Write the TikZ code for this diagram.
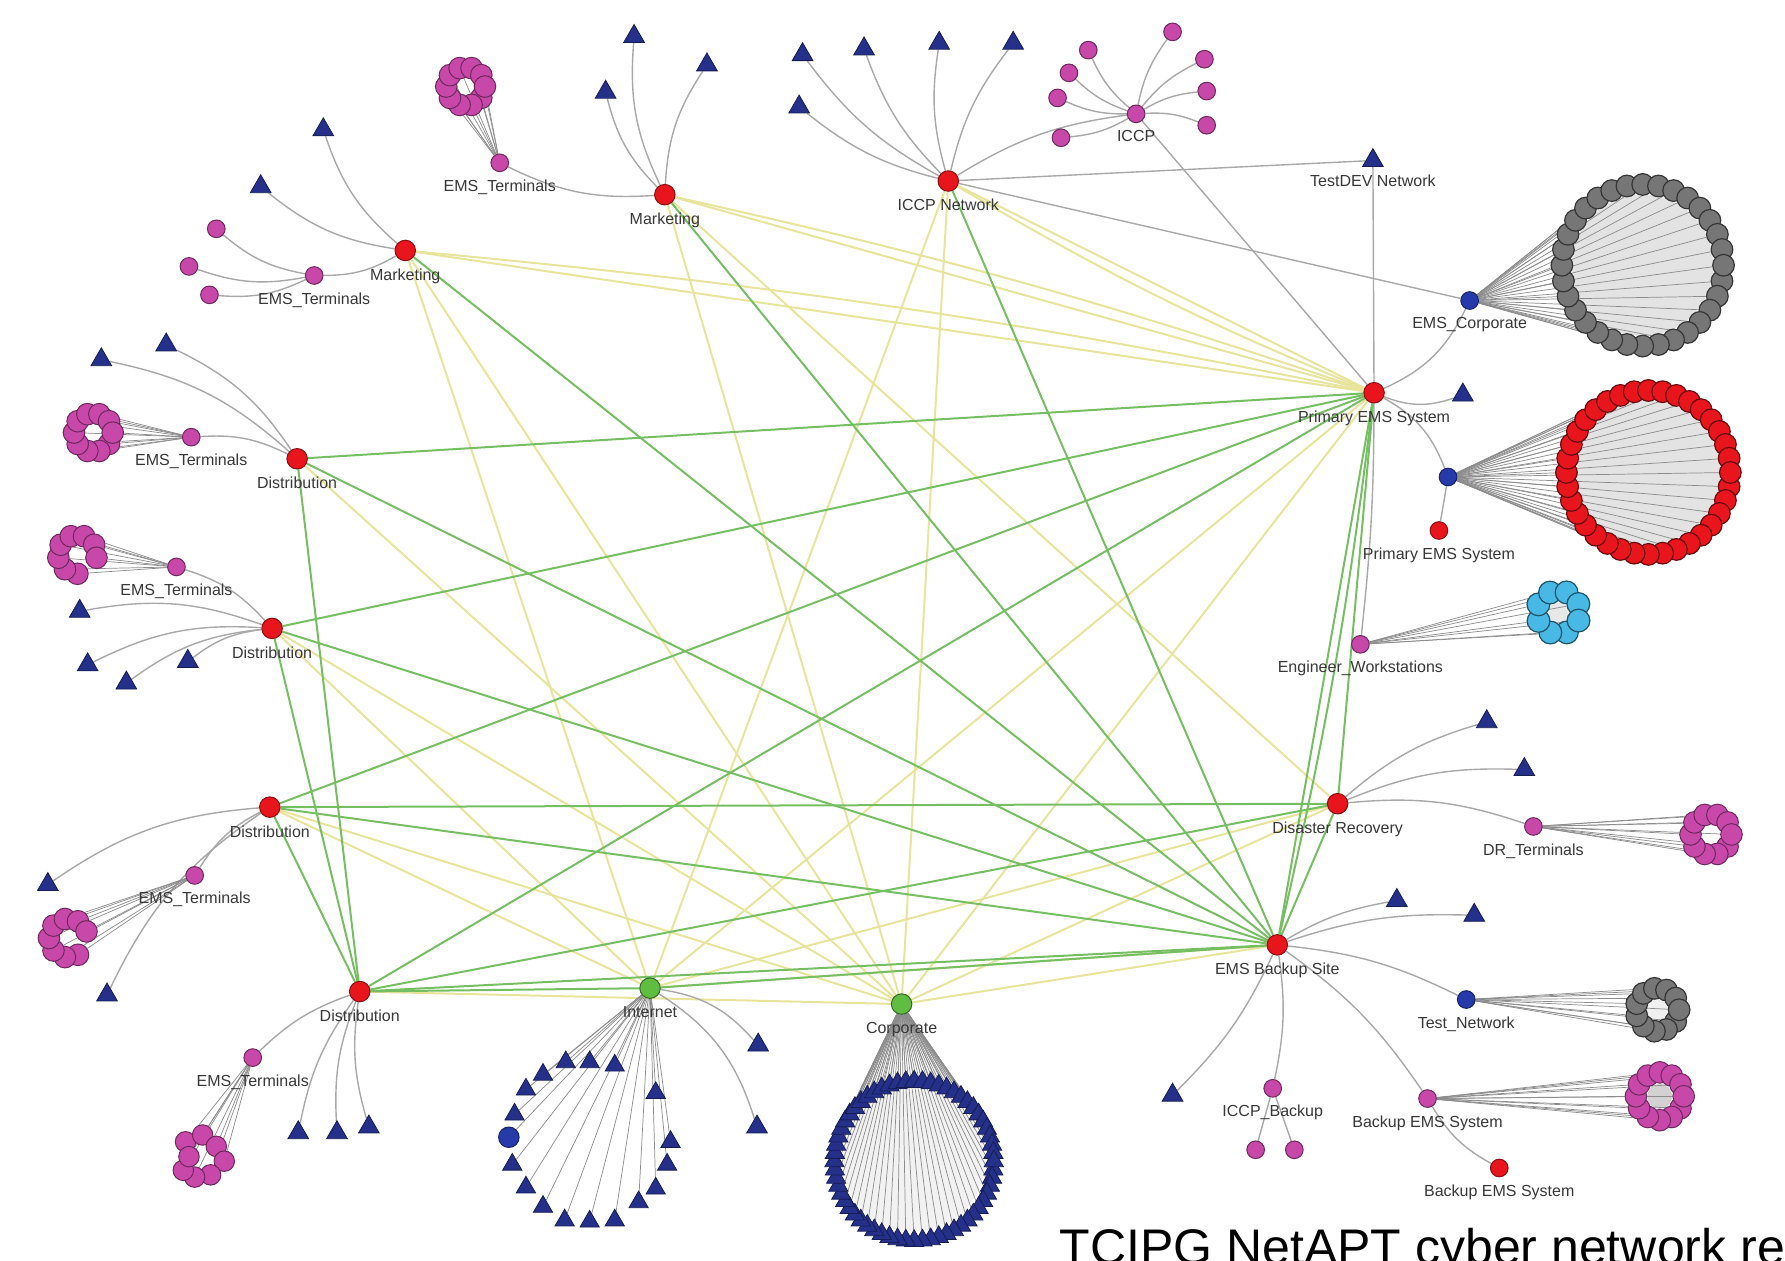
\documentclass[tikz,border=0pt]{standalone}
\usepackage{fontspec}
\setmainfont{Liberation Sans}
\usepackage{tikz}
\usetikzlibrary{shapes.geometric, positioning, calc, backgrounds}
\definecolor{hubred}{RGB}{232, 22, 28}
\definecolor{gwgreen}{RGB}{95, 190, 65}
\definecolor{termpink}{RGB}{200, 72, 170}
\definecolor{hostblue}{RGB}{38, 58, 170}
\definecolor{trinavy}{RGB}{36, 48, 138}
\definecolor{ringgray}{RGB}{118, 118, 118}
\definecolor{wscyan}{RGB}{72, 185, 228}
\definecolor{linkgray}{RGB}{168, 168, 168}
\definecolor{fangray}{RGB}{140, 140, 140}
\definecolor{meshyellow}{RGB}{232, 228, 155}
\definecolor{meshgreen}{RGB}{118, 190, 98}
\definecolor{labelgray}{RGB}{55, 55, 55}

\newcommand{\lblfont}{\fontsize{4}{4.5}\selectfont}

\tikzset{
    hub/.style={circle, fill=hubred, draw=hubred!60!black, line width=0.25pt,
        minimum size=1.8mm, inner sep=0pt},
    gwhub/.style={hub, fill=gwgreen, draw=gwgreen!55!black},
    term/.style={circle, fill=termpink, draw=termpink!55!black, line width=0.25pt,
        minimum size=1.55mm, inner sep=0pt},
    cell/.style={term, minimum size=1.9mm},
    sysnode/.style={term, fill=hubred, draw=hubred!60!black},
    host/.style={term, fill=hostblue, draw=hostblue!60!black},
    member/.style={circle, fill=#1, draw=#1!45!black, line width=0.3pt,
        minimum size=1.9mm, inner sep=0pt},
    devtri/.style={regular polygon, regular polygon sides=3, fill=trinavy,
        draw=trinavy!60!black, line width=0.2pt, minimum size=2.1mm, inner sep=0pt},
    ringtri/.style={devtri, minimum size=1.95mm},
    lbl/.style={font=\lblfont, text=labelgray, inner sep=0.4pt},
    every label/.append style={lbl},
    yellowlink/.style={draw=meshyellow, line width=0.5pt},
    greenlink/.style={draw=meshgreen, line width=0.5pt},
    childlink/.style={draw=linkgray, line width=0.35pt},
    fanlink/.style={draw=fangray, line width=0.18pt}
}

% ring of member nodes: name, centre, radius, count, style, start angle
\newcommand{\nodering}[6]{%
    \foreach \k in {1,...,#4}
        \node[#5] (#1-\k) at ($#2+({#6+\k*(360/#4)}:#3)$) {};
}
% links from one node to every member of a ring
\newcommand{\fanlinks}[3]{%
    \foreach \k in {1,...,#3}
        \draw[fanlink] (#1) -- (#2-\k);
}

\begin{document}
\begin{tikzpicture}[x=0.1mm, y=-0.1mm, label distance=1.3pt]
    \path[use as bounding box] (0,0) rectangle (1568,1107);
    \clip (0,0) rectangle (1568,1107);

    % zone hubs
    \node[hub, label=below:Marketing] (mktA) at (356,220) {};
    \node[hub, label=below:Marketing] (mktB) at (584,171) {};
    \node[hub, label=below:ICCP Network] (iccpnet) at (833,159) {};
    \node[hub, label=below:Primary EMS System] (primems) at (1207,345) {};
    \node[hub, label=below:Distribution] (distA) at (261,403) {};
    \node[hub, label=below:Distribution] (distB) at (239,552) {};
    \node[hub, label=below:Distribution] (distC) at (237,709) {};
    \node[hub, label=below:Distribution] (distD) at (316,871) {};
    \node[hub, label=below:Disaster Recovery] (disrec) at (1175,706) {};
    \node[hub, label=below:EMS Backup Site] (emsbk) at (1122,830) {};
    \node[gwhub, label=below:Internet] (inet) at (571,868) {};
    \node[gwhub, label=below:Corporate] (corp) at (792,882) {};

    % Marketing, left
    \node[devtri] (mktA-t1) at (284,114) {};
    \node[devtri] (mktA-t2) at (229,164) {};
    \node[term, label=below:EMS\_Terminals] (mktA-term) at (276,242) {};
    \node[term] (mktA-p1) at (190,201) {};
    \node[term] (mktA-p2) at (166,234) {};
    \node[term] (mktA-p3) at (184,259) {};

    % Marketing, top
    \node[devtri] (mktB-t1) at (557,32) {};
    \node[devtri] (mktB-t2) at (621,57) {};
    \node[devtri] (mktB-t3) at (532,81) {};
    \node[term, label=below:EMS\_Terminals] (mktB-term) at (439,143) {};
    \nodering{mktB-ring}{(409,76)}{17}{10}{cell}{0}

    % ICCP network
    \foreach \p [count=\k] in {(705,48),(759,43),(825,38),(890,38),(702,94)}
        \node[devtri] (iccpnet-t\k) at \p {};
    \node[term, label=below:ICCP] (iccp) at (998,100) {};
    \foreach \p [count=\k] in {(956,44),(939,64),(929,86),(932,121),(1030,28),(1058,52),(1060,80),(1060,110)}
        \node[term] (iccp-p\k) at \p {};
    \node[devtri, label=below:TestDEV Network] (testdev) at (1206,141) {};
    \node[host, label=below:EMS\_Corporate] (emscorp) at (1291,264) {};
    \nodering{corpnet}{(1443,233)}{71}{32}{member=ringgray}{0}

    % Primary EMS System
    \node[devtri] (primems-t1) at (1285,347) {};
    \node[host] (pesys-host) at (1272,419) {};
    \nodering{pesys}{(1448,415)}{72}{36}{member=hubred}{0}
    \node[sysnode, label=below:Primary EMS System] (pesys-red) at (1264,466) {};
    \node[term, label=below:Engineer\_Workstations] (engws) at (1195,566) {};
    \nodering{wsring}{(1369,538)}{19}{8}{member=wscyan, minimum size=2mm}{22}

    % Disaster Recovery
    \node[devtri] (disrec-t1) at (1306,634) {};
    \node[devtri] (disrec-t2) at (1339,676) {};
    \node[term, label=below:DR\_Terminals] (drterm) at (1347,726) {};
    \nodering{drring}{(1503,733)}{18}{10}{cell}{0}

    % EMS Backup Site
    \node[devtri] (emsbk-t1) at (1227,791) {};
    \node[devtri] (emsbk-t2) at (1295,804) {};
    \node[devtri] (emsbk-t3) at (1030,962) {};
    \node[host, label=below:Test\_Network] (testnet) at (1288,878) {};
    \nodering{testring}{(1456,887)}{19}{11}{member=ringgray}{0}
    \node[term, label=below:ICCP\_Backup] (iccpbk) at (1118,956) {};
    \node[term] (iccpbk-p1) at (1103,1010) {};
    \node[term] (iccpbk-p2) at (1137,1010) {};
    \node[term, label=below:Backup EMS System] (bkterm) at (1254,965) {};
    \nodering{bkring}{(1458,963)}{21}{12}{cell}{0}
    \node[sysnode, label=below:Backup EMS System] (bkred) at (1317,1026) {};

    % Distribution, left side
    \node[devtri] (distA-t1) at (89,316) {};
    \node[devtri] (distA-t2) at (146,303) {};
    \node[term, label=below:EMS\_Terminals] (distA-term) at (168,384) {};
    \nodering{distA-ring}{(82,380)}{17}{10}{cell}{0}

    \node[term, label=below:EMS\_Terminals] (distB-term) at (155,498) {};
    \foreach \a [count=\k] in {90,130,170,210,250,290,330,10}
        \node[cell] (distB-ring-\k) at ($(68,487)+(\a:17)$) {};
    \foreach \p [count=\k] in {(70,537),(77,584),(111,600),(165,581)}
        \node[devtri] (distB-t\k) at \p {};

    \node[term, label=below:EMS\_Terminals] (distC-term) at (171,769) {};
    \foreach \a [count=\k] in {60,100,140,180,220,260,300,340}
        \node[cell] (distC-ring-\k) at ($(60,824)+(\a:17)$) {};
    \node[devtri] (distC-t1) at (42,777) {};
    \node[devtri] (distC-t2) at (94,874) {};

    \node[term, label=below:EMS\_Terminals] (distD-term) at (222,929) {};
    \foreach \p [count=\k] in {(163,1003),(178,997),(190,1007),(197,1020),(185,1032),(171,1034),(161,1028),(166,1016)}
        \node[cell, minimum size=1.8mm] (distD-ring-\k) at \p {};
    \foreach \p [count=\k] in {(262,995),(296,995),(324,990)}
        \node[devtri] (distD-t\k) at \p {};

    % Internet
    \node[devtri] (inet-t1) at (666,918) {};
    \node[devtri] (inet-t2) at (665,990) {};
    \foreach \p [count=\k] in {(497,933),(518,933),(540,936),(576,960),(589,1003),(586,1023),(576,1044),(561,1056),(540,1072),(518,1073),(496,1072),(477,1060),(462,1043),(450,1023),(452,979),(462,957),(477,944)}
        \node[ringtri] (inetdev-\k) at \p {};
    \node[host, minimum size=1.8mm] (inet-host) at (447,999) {};

    % Corporate
    \nodering{corpdev}{(803,1020)}{70}{60}{ringtri}{0}

    \node[anchor=base west, font=\fontsize{12.5}{14}\selectfont, inner sep=0pt] (caption) at (930,1111) {TCIPG NetAPT cyber network rep};

    \begin{pgfonlayer}{background}
        % ring interiors
        \fill[gray!22] (1443,233) circle (62);
        \fill[gray!22] (1448,415) circle (63);
        \fill[gray!10] (803,1020) circle (62);
        \fill[gray!35] (1458,963) circle (11);
        \fill[gray!18] (1369,538) circle (9);
        \fill[gray!12] (1456,887) circle (10);

        % links between zones
        \foreach \a/\b in {mktA/primems, mktB/primems, iccpnet/primems, mktA/inet, mktA/corp,
            mktB/corp, mktB/disrec, iccpnet/inet, iccpnet/corp, distA/corp, distB/inet, distB/corp,
            distC/inet, distC/corp, distD/corp, primems/inet, primems/corp, disrec/inet,
            disrec/corp, emsbk/inet, emsbk/corp}
            \draw[yellowlink] (\a) -- (\b);
        \draw[yellowlink] (mktA) to[bend left=3] (primems);
        \draw[yellowlink] (mktB) to[bend left=3] (primems);
        \draw[yellowlink] (iccpnet) to[bend right=4] (primems);
        \foreach \a/\b in {distA/primems, distA/emsbk, distA/distD, distB/primems, distB/emsbk,
            distB/distD, distC/primems, distC/emsbk, distC/distD, distC/disrec, distD/primems,
            distD/emsbk, distD/disrec, distD/inet, mktA/emsbk, mktB/emsbk, iccpnet/emsbk,
            primems/emsbk, primems/disrec, disrec/emsbk, inet/emsbk}
            \draw[greenlink] (\a) -- (\b);
        \draw[greenlink] (primems) to[bend left=3] (emsbk);

        % links to devices and terminals
        \foreach \b in {mktA-t1, mktA-t2, mktA-term}
            \draw[childlink] (mktA) to[bend left=15] (\b);
        \foreach \b in {mktA-p1, mktA-p2, mktA-p3}
            \draw[childlink] (mktA-term) to[bend left=15] (\b);
        \foreach \b in {mktB-t1, mktB-t2, mktB-t3, mktB-term}
            \draw[childlink] (mktB) to[bend left=15] (\b);
        \foreach \b in {iccpnet-t1, iccpnet-t2, iccpnet-t3, iccpnet-t4, iccpnet-t5, iccp}
            \draw[childlink] (iccpnet) to[bend left=12] (\b);
        \draw[childlink] (iccpnet) -- (testdev);
        \draw[childlink] (iccpnet) -- (emscorp);
        \foreach \k in {1,...,8}
            \draw[childlink] (iccp) to[bend left=12] (iccp-p\k);
        \draw[childlink] (iccp) -- (primems);
        \draw[childlink] (primems) -- (testdev);
        \draw[childlink] (primems) to[bend right=20] (emscorp);
        \draw[childlink] (primems) to[bend right=20] (primems-t1);
        \draw[childlink] (primems) to[bend left=20] (pesys-host);
        \draw[childlink] (primems) to[bend left=3] (engws);
        \draw[childlink] (pesys-host) -- (pesys-red);
        \foreach \b in {disrec-t1, disrec-t2, drterm}
            \draw[childlink] (disrec) to[bend left=12] (\b);
        \foreach \b in {emsbk-t1, emsbk-t2, testnet, bkterm, iccpbk, emsbk-t3}
            \draw[childlink] (emsbk) to[bend left=10] (\b);
        \draw[childlink] (iccpbk) -- (iccpbk-p1);
        \draw[childlink] (iccpbk) -- (iccpbk-p2);
        \draw[childlink] (bkterm) to[bend right=15] (bkred);
        \foreach \b in {distA-t1, distA-t2, distA-term}
            \draw[childlink] (distA) to[bend right=15] (\b);
        \foreach \b in {distB-term, distB-t1, distB-t2, distB-t3, distB-t4}
            \draw[childlink] (distB) to[bend right=15] (\b);
        \foreach \b in {distC-term, distC-t1, distC-t2}
            \draw[childlink] (distC) to[bend right=15] (\b);
        \foreach \b in {distD-term, distD-t1, distD-t2, distD-t3}
            \draw[childlink] (distD) to[bend right=12] (\b);
        \draw[childlink] (inet) to[bend left=20] (inet-t1);
        \draw[childlink] (inet) to[bend left=20] (inet-t2);
        \draw[fanlink] (inet) -- (inet-host);

        % fans into the host rings
        \fanlinks{mktB-term}{mktB-ring}{10}
        \fanlinks{emscorp}{corpnet}{32}
        \fanlinks{pesys-host}{pesys}{36}
        \fanlinks{engws}{wsring}{8}
        \fanlinks{drterm}{drring}{10}
        \fanlinks{testnet}{testring}{11}
        \fanlinks{bkterm}{bkring}{12}
        \fanlinks{distA-term}{distA-ring}{10}
        \fanlinks{distB-term}{distB-ring}{8}
        \fanlinks{distC-term}{distC-ring}{8}
        \fanlinks{distD-term}{distD-ring}{8}
        \fanlinks{inet}{inetdev}{17}
        \fanlinks{corp}{corpdev}{60}
    \end{pgfonlayer}
\end{tikzpicture}
\end{document}
